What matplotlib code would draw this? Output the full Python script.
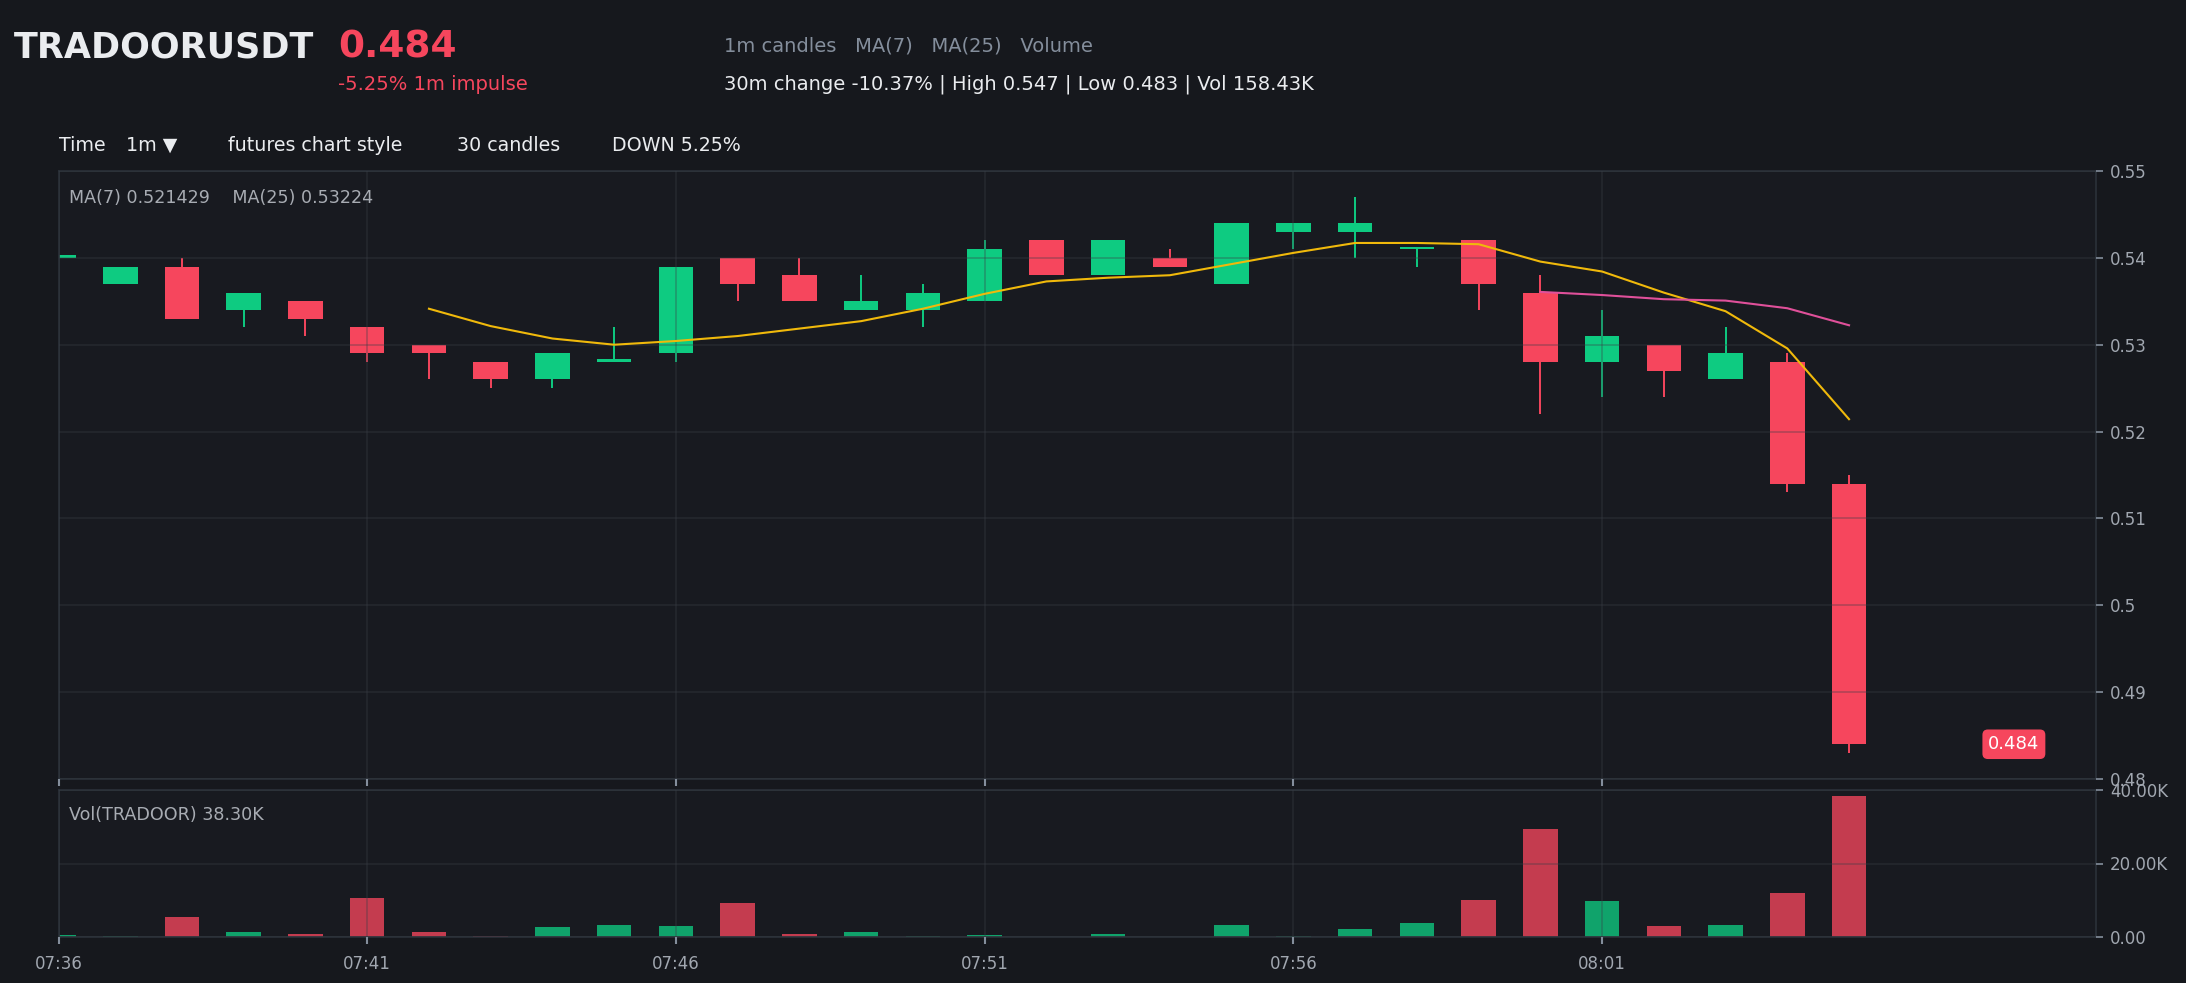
import matplotlib
matplotlib.use("Agg")
import matplotlib.pyplot as plt
import numpy as np

# ---------------- data ----------------
times = ["07:36", "07:37", "07:38", "07:39", "07:40", "07:41", "07:42", "07:43", "07:44", "07:45",
         "07:46", "07:47", "07:48", "07:49", "07:50", "07:51", "07:52", "07:53", "07:54", "07:55",
         "07:56", "07:57", "07:58", "07:59", "08:00", "08:01", "08:02", "08:03", "08:04", "08:05"]
opens = [0.540, 0.537, 0.539, 0.534, 0.535, 0.532, 0.530, 0.528, 0.526, 0.528,
         0.529, 0.540, 0.538, 0.534, 0.534, 0.535, 0.542, 0.538, 0.540, 0.537,
         0.543, 0.543, 0.541, 0.542, 0.536, 0.528, 0.530, 0.526, 0.528, 0.514]
highs = [0.540, 0.539, 0.540, 0.536, 0.535, 0.532, 0.530, 0.528, 0.529, 0.532,
         0.539, 0.540, 0.540, 0.538, 0.537, 0.542, 0.542, 0.542, 0.541, 0.544,
         0.544, 0.547, 0.541, 0.542, 0.538, 0.534, 0.530, 0.532, 0.529, 0.515]
lows = [0.540, 0.537, 0.533, 0.532, 0.531, 0.528, 0.526, 0.525, 0.525, 0.528,
        0.528, 0.535, 0.535, 0.534, 0.532, 0.535, 0.538, 0.538, 0.539, 0.537,
        0.541, 0.540, 0.539, 0.534, 0.522, 0.524, 0.524, 0.526, 0.513, 0.483]
closes = [0.540, 0.539, 0.533, 0.536, 0.533, 0.529, 0.529, 0.526, 0.529, 0.528,
          0.539, 0.537, 0.535, 0.535, 0.536, 0.541, 0.538, 0.542, 0.539, 0.544,
          0.544, 0.544, 0.541, 0.537, 0.528, 0.531, 0.527, 0.529, 0.514, 0.484]
volumes_k = [0.45, 0.15, 5.4, 1.3, 0.75, 10.7, 1.3, 0.15, 2.7, 3.2,
             3.0, 9.2, 0.7, 1.3, 0.15, 0.45, 0.05, 0.75, 0.1, 3.2,
             0.15, 2.1, 3.9, 10.0, 29.4, 9.7, 2.9, 3.3, 12.0, 38.30]
price_ticks = [0.48, 0.49, 0.50, 0.51, 0.52, 0.53, 0.54, 0.55]
price_tick_labels = ["0.48", "0.49", "0.5", "0.51", "0.52", "0.53", "0.54", "0.55"]
vol_ticks_k = [0, 20, 40]
vol_tick_labels = ["0.00", "20.00K", "40.00K"]
time_tick_idx = [0, 5, 10, 15, 20, 25]

# ---------------- style ----------------
W, H = 2186, 983
BG = "#16181d"
AX_BG = "#181a20"
UP = "#0ecb81"
DOWN = "#f6465d"
GRID = "#3a3f47"
SPINE = "#2b3139"
TICK_TXT = "#a1a7b0"
GREY = "#848e9c"
WHITE = "#eaecef"
MA7_C = "#f0b90b"
MA25_C = "#e0509a"

plt.rcParams["font.family"] = ["DejaVu Sans"]

fig = plt.figure(figsize=(W / 100, H / 100), dpi=100, facecolor=BG)

def fbox(l, t, r, b):
    return [l / W, 1 - b / H, (r - l) / W, (b - t) / H]

ax = fig.add_axes(fbox(58.5, 171, 2096, 779), facecolor=AX_BG)
axv = fig.add_axes(fbox(58.5, 790, 2096, 937), facecolor=AX_BG)

o = np.array(opens); h = np.array(highs); l = np.array(lows); c = np.array(closes)
x = np.arange(len(times))
up = c >= o
colors = np.where(up, UP, DOWN)
bw = 0.56

# wicks
ax.vlines(x, l, h, colors=colors, linewidth=1.4, zorder=1.2)
# bodies
body_bottom = np.minimum(o, c)
body_h = np.maximum(np.abs(c - o), 0.0003)
ax.bar(x, body_h, bw, bottom=body_bottom, color=colors, linewidth=0, zorder=1.3)

# moving averages
cs = np.array(closes)
ma7 = np.convolve(cs, np.ones(7) / 7, mode="valid")
ma25 = np.convolve(cs, np.ones(25) / 25, mode="valid")
ax.plot(x[6:], ma7, color=MA7_C, linewidth=1.5, zorder=3)
ax.plot(x[24:], ma25, color=MA25_C, linewidth=1.5, zorder=3)

ax.set_xlim(0, 33)
ax.set_ylim(0.48, 0.55)
ax.set_yticks(price_ticks)
ax.set_yticklabels(price_tick_labels)
ax.set_xticks(time_tick_idx)
ax.set_xticklabels([])
ax.yaxis.tick_right()
ax.tick_params(axis="y", colors=GREY, labelcolor=TICK_TXT, labelsize=12, length=5, width=1.2, pad=5)
ax.tick_params(axis="x", colors=GREY, length=5, width=1.5)
ax.grid(True, color=GRID, alpha=0.4, linewidth=1.1)
ax.set_axisbelow(False)
for s in ax.spines.values():
    s.set_color(SPINE)
    s.set_linewidth(1.2)

# last price tag
ax.text(31.67, c[-1], f"{c[-1]:.3f}", ha="center", va="center", color="white", fontsize=13, zorder=5,
        bbox=dict(boxstyle="round,pad=0.32,rounding_size=0.3", fc=DOWN, ec="none"))

# volume
vol = np.array(volumes_k) * 1000
axv.bar(x, vol, bw, color=colors, alpha=0.78, linewidth=0, zorder=1.3)
axv.set_xlim(0, 33)
axv.set_ylim(0, 40000)
axv.set_yticks([v * 1000 for v in vol_ticks_k])
axv.set_yticklabels(vol_tick_labels)
axv.set_xticks(time_tick_idx)
axv.set_xticklabels([times[i] for i in time_tick_idx])
axv.yaxis.tick_right()
axv.tick_params(axis="y", colors=GREY, labelcolor=TICK_TXT, labelsize=12, length=5, width=1.2, pad=5)
axv.tick_params(axis="x", colors=GREY, labelcolor=TICK_TXT, labelsize=12, length=5, width=1.5, pad=8)
axv.grid(True, color=GRID, alpha=0.4, linewidth=1.1)
axv.set_axisbelow(False)
for s in axv.spines.values():
    s.set_color(SPINE)
    s.set_linewidth(1.2)

# ---------------- texts ----------------
def ftext(xp, yp, s, **kw):
    fig.text(xp / W, 1 - yp / H, s, va="baseline", ha="left", **kw)

ftext(14, 58, "TRADOORUSDT", color=WHITE, fontsize=25.2, fontweight="bold")
ftext(338, 58, f"{c[-1]:.3f}", color=DOWN, fontsize=27, fontweight="bold")
ftext(338, 90, "-5.25% 1m impulse", color=DOWN, fontsize=14)
ftext(724, 52, "1m candles   MA(7)   MA(25)   Volume", color=GREY, fontsize=14)
ftext(724, 90, "30m change -10.37% | High 0.547 | Low 0.483 | Vol 158.43K", color=WHITE, fontsize=14)

ftext(59, 151, "Time", color=WHITE, fontsize=13.7)
ftext(126, 151, "1m \u25BC", color=WHITE, fontsize=13.7)
ftext(228, 151, "futures chart style", color=WHITE, fontsize=13.7)
ftext(457, 151, "30 candles", color=WHITE, fontsize=13.7)
ftext(612, 151, "DOWN 5.25%", color=WHITE, fontsize=13.7)

ftext(69, 203, f"MA(7) {ma7[-1]:.6f}    MA(25) {ma25[-1]:.5f}", color="#a8acb3", fontsize=12.6)
ftext(69, 820, f"Vol(TRADOOR) {vol[-1] / 1000:.2f}K", color="#a8acb3", fontsize=12.6)

fig.savefig("out.png", dpi=100, facecolor=BG)
